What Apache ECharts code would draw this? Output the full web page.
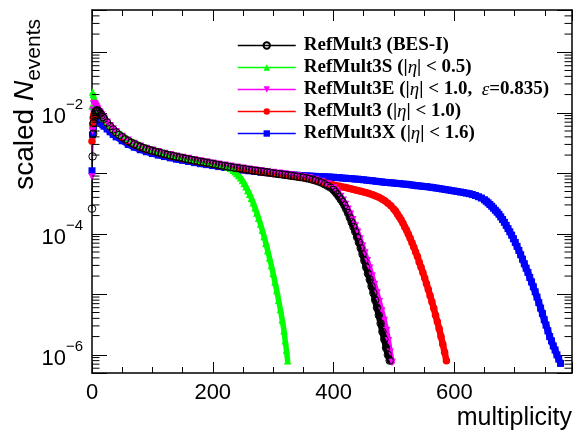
<!DOCTYPE html>
<html>
<head>
<meta charset="utf-8">
<script src="https://cdn.jsdelivr.net/npm/echarts@6/dist/echarts.min.js"></script>
<style>
html,body{margin:0;padding:0;background:#fff;}
#chart{width:578px;height:433px;}
</style>
</head>
<body>
<div id="chart"></div>
<script>
// ---------------- data (multiplicity, scaled N_events) ----------------
const seriesNames = [
  'RefMult3 (BES-I)',
  'RefMult3S (|η| < 0.5)',
  'RefMult3E (|η| < 1.0,  ε=0.835)',
  'RefMult3 (|η| < 1.0)',
  'RefMult3X (|η| < 1.6)'
];
const seriesColors = ['#000000', '#00ff00', '#ff00ff', '#ff0000', '#0000ff'];

const blackPts = [
 [0,2.6e-4],[1,1.9e-3],[2,4.5e-3],[3,6.8e-3],[4,8.5e-3],[5,9.6e-3],[6,1.04e-2],[7,1.08e-2],[8,1.1e-2],[9,1.1e-2],
 [10,1.08e-2],[12,1.03e-2],[14,9.7e-3],[16,9.1e-3],[18,8.5e-3],[20,8.0e-3],[25,6.9e-3],[30,6.0e-3],[35,5.3e-3],[40,4.75e-3],
 [45,4.3e-3],[50,3.95e-3],[55,3.65e-3],[60,3.4e-3],[65,3.2e-3],[70,3.02e-3],[75,2.87e-3],[80,2.74e-3],[85,2.62e-3],[90,2.52e-3],
 [95,2.43e-3],[100,2.35e-3],[105,2.28e-3],[110,2.21e-3],[115,2.14e-3],[120,2.08e-3],[125,2.02e-3],[130,1.97e-3],[135,1.92e-3],[140,1.87e-3],
 [145,1.83e-3],[150,1.78e-3],[155,1.74e-3],[160,1.70e-3],[165,1.66e-3],[170,1.62e-3],[175,1.58e-3],[180,1.55e-3],[185,1.52e-3],[190,1.49e-3],
 [195,1.46e-3],[200,1.43e-3],[205,1.40e-3],[210,1.37e-3],[215,1.34e-3],[220,1.32e-3],[225,1.29e-3],[230,1.27e-3],[235,1.24e-3],[240,1.22e-3],
 [245,1.20e-3],[250,1.18e-3],[255,1.16e-3],[260,1.14e-3],[265,1.12e-3],[270,1.10e-3],[275,1.085e-3],[280,1.07e-3],[285,1.055e-3],[290,1.04e-3],
 [295,1.02e-3],[300,1.0e-3],[305,9.85e-4],[310,9.7e-4],[315,9.55e-4],[320,9.4e-4],[325,9.25e-4],[330,9.1e-4],[335,8.95e-4],[340,8.8e-4],
 [345,8.65e-4],[350,8.5e-4],[355,8.3e-4],[360,8.1e-4],[365,7.85e-4],[370,7.6e-4],[375,7.3e-4],[380,7.0e-4],[385,6.6e-4],[390,6.2e-4],
 [395,5.8e-4],[400,5.3e-4],[403,4.9e-4],[406,4.5e-4],[409,4.1e-4],[412,3.7e-4],[415,3.35e-4],[418,2.95e-4],[421,2.55e-4],[424,2.2e-4],
 [427,1.85e-4],[430,1.55e-4],[433,1.3e-4],[436,1.08e-4],[439,8.8e-5],[442,7.2e-5],[445,5.8e-5],[448,4.6e-5],[451,3.6e-5],[454,2.8e-5],
 [457,2.2e-5],[460,1.75e-5],[463,1.35e-5],[466,1.05e-5],[469,8.0e-6],[472,6.0e-6],[475,4.5e-6],[478,3.3e-6],[481,2.4e-6],[484,1.8e-6],
 [487,1.3e-6],[490,1.0e-6],[493,8e-7]
];

const greenPts = [
 [0,1.3e-2],[1,2.2e-2],[2,2.0e-2],[3,1.75e-2],[4,1.6e-2],[5,1.48e-2],[6,1.38e-2],[7,1.3e-2],[8,1.23e-2],[9,1.17e-2],
 [10,1.12e-2],[12,1.04e-2],[14,9.7e-3],[16,9.1e-3],[18,8.6e-3],[20,8.1e-3],[25,7.1e-3],[30,6.3e-3],[35,5.6e-3],[40,5.05e-3],
 [45,4.6e-3],[50,4.25e-3],[60,3.65e-3],[70,3.22e-3],[80,2.9e-3],[90,2.66e-3],[100,2.48e-3],[110,2.32e-3],[120,2.18e-3],[130,2.06e-3],
 [140,1.95e-3],[150,1.86e-3],[160,1.77e-3],[170,1.69e-3],[180,1.61e-3],[190,1.54e-3],[200,1.47e-3],[210,1.4e-3],[220,1.32e-3],[225,1.27e-3],
 [230,1.2e-3],[234,1.12e-3],[237,1.06e-3],[240,9.9e-4],[243,9.2e-4],[246,8.4e-4],[249,7.6e-4],[252,6.8e-4],[255,6.0e-4],[258,5.2e-4],
 [261,4.5e-4],[264,3.85e-4],[267,3.25e-4],[270,2.7e-4],[273,2.2e-4],[276,1.8e-4],[279,1.45e-4],[282,1.15e-4],[285,9.0e-5],[288,7.0e-5],
 [291,5.3e-5],[294,4.0e-5],[297,3.0e-5],[300,2.2e-5],[303,1.6e-5],[306,1.15e-5],[309,8.0e-6],[312,5.6e-6],[315,3.8e-6],[318,2.5e-6],
 [320,1.7e-6],[322,1.2e-6],[324,8e-7]
];

const magentaPts = [
 [0,8.7e-4],[1,5.0e-3],[2,1.1e-2],[3,1.4e-2],[4,1.42e-2],[5,1.38e-2],[6,1.32e-2],[7,1.26e-2],[8,1.2e-2],[9,1.15e-2],
 [10,1.1e-2],[12,1.04e-2],[14,9.8e-3],[16,9.2e-3],[18,8.6e-3],[20,8.1e-3],[25,7.0e-3],[30,6.1e-3],[35,5.4e-3],[40,4.85e-3],
 [50,4.05e-3],[60,3.5e-3],[70,3.1e-3],[80,2.8e-3],[90,2.58e-3],[100,2.4e-3],[110,2.26e-3],[120,2.13e-3],[130,2.02e-3],[140,1.92e-3],
 [150,1.83e-3],[160,1.75e-3],[170,1.67e-3],[180,1.6e-3],[190,1.53e-3],[200,1.47e-3],[210,1.41e-3],[220,1.36e-3],[230,1.31e-3],[240,1.26e-3],
 [250,1.21e-3],[260,1.17e-3],[270,1.13e-3],[280,1.1e-3],[290,1.06e-3],[300,1.03e-3],[310,1.0e-3],[320,9.7e-4],[330,9.4e-4],[340,9.1e-4],
 [350,8.8e-4],[360,8.4e-4],[370,7.9e-4],[380,7.3e-4],[390,6.6e-4],[400,5.7e-4],[404,5.2e-4],[408,4.7e-4],[412,4.15e-4],[416,3.6e-4],
 [420,3.05e-4],[424,2.55e-4],[428,2.1e-4],[432,1.7e-4],[436,1.35e-4],[440,1.06e-4],[444,8.2e-5],[448,6.3e-5],[452,4.8e-5],[456,3.6e-5],
 [460,2.7e-5],[464,2.0e-5],[468,1.45e-5],[472,1.05e-5],[476,7.5e-6],[480,5.3e-6],[484,3.7e-6],[488,2.5e-6],[491,1.7e-6],[494,1.1e-6],
 [497,7.5e-7]
];

const redPts = [
 [0,3.4e-3],[1,6.5e-3],[2,8.2e-3],[3,9.2e-3],[4,9.8e-3],[5,1.02e-2],[6,1.04e-2],[7,1.05e-2],[8,1.05e-2],[9,1.04e-2],
 [10,1.02e-2],[12,9.8e-3],[14,9.3e-3],[16,8.8e-3],[18,8.3e-3],[20,7.8e-3],[25,6.8e-3],[30,5.9e-3],[35,5.2e-3],[40,4.7e-3],
 [50,3.9e-3],[60,3.35e-3],[70,2.97e-3],[80,2.7e-3],[90,2.48e-3],[100,2.32e-3],[110,2.18e-3],[120,2.05e-3],[130,1.94e-3],[140,1.85e-3],
 [150,1.76e-3],[160,1.68e-3],[170,1.6e-3],[180,1.53e-3],[190,1.47e-3],[200,1.41e-3],[210,1.35e-3],[220,1.3e-3],[230,1.25e-3],[240,1.2e-3],
 [250,1.16e-3],[260,1.12e-3],[270,1.08e-3],[280,1.05e-3],[290,1.02e-3],[300,9.9e-4],[310,9.6e-4],[320,9.3e-4],[330,9.0e-4],[340,8.75e-4],
 [350,8.5e-4],[355,8.35e-4],[360,8.2e-4],[365,7.95e-4],[370,7.7e-4],[375,7.45e-4],[380,7.2e-4],[385,7.0e-4],[390,6.8e-4],[395,6.6e-4],
 [400,6.4e-4],[405,6.25e-4],[410,6.1e-4],[415,5.95e-4],[420,5.8e-4],[425,5.65e-4],[430,5.5e-4],[435,5.35e-4],[440,5.2e-4],[445,5.05e-4],
 [450,4.9e-4],[455,4.75e-4],[460,4.6e-4],[465,4.4e-4],[470,4.2e-4],[475,4.0e-4],[480,3.75e-4],[485,3.5e-4],[490,3.2e-4],[495,2.9e-4],
 [500,2.55e-4],[503,2.35e-4],[506,2.1e-4],[509,1.9e-4],[512,1.7e-4],[515,1.5e-4],[518,1.3e-4],[521,1.14e-4],[524,9.8e-5],[527,8.4e-5],
 [530,7.1e-5],[533,6.0e-5],[536,5.0e-5],[539,4.2e-5],[542,3.4e-5],[545,2.8e-5],[548,2.3e-5],[551,1.85e-5],[554,1.5e-5],[557,1.2e-5],
 [560,9.5e-6],[563,7.5e-6],[566,5.9e-6],[569,4.5e-6],[572,3.5e-6],[575,2.7e-6],[578,2.0e-6],[581,1.5e-6],[584,1.1e-6],[587,8e-7]
];

const bluePts = [
 [0,1.1e-3],[1,4.3e-3],[2,5.9e-3],[3,6.8e-3],[4,7.4e-3],[5,7.8e-3],[6,8.0e-3],[7,8.1e-3],[8,8.1e-3],[9,8.0e-3],
 [10,7.85e-3],[12,7.5e-3],[14,7.1e-3],[16,6.7e-3],[18,6.35e-3],[20,6.0e-3],[25,5.4e-3],[30,4.85e-3],[35,4.4e-3],[40,4.0e-3],
 [50,3.45e-3],[60,3.0e-3],[70,2.7e-3],[80,2.45e-3],[90,2.27e-3],[100,2.12e-3],[110,2.0e-3],[120,1.89e-3],[130,1.8e-3],[140,1.71e-3],
 [150,1.64e-3],[160,1.57e-3],[170,1.5e-3],[180,1.44e-3],[190,1.39e-3],[200,1.34e-3],[210,1.29e-3],[220,1.25e-3],[230,1.21e-3],[240,1.17e-3],
 [250,1.13e-3],[260,1.1e-3],[270,1.07e-3],[280,1.04e-3],[290,1.02e-3],[300,1.0e-3],[305,9.9e-4],[310,9.8e-4],[315,9.7e-4],[320,9.6e-4],
 [325,9.5e-4],[330,9.45e-4],[335,9.35e-4],[340,9.3e-4],[345,9.2e-4],[350,9.15e-4],[355,9.05e-4],[360,9.0e-4],[365,8.95e-4],[370,8.9e-4],
 [375,8.85e-4],[380,8.8e-4],[385,8.75e-4],[390,8.7e-4],[395,8.65e-4],[400,8.6e-4],[405,8.5e-4],[410,8.45e-4],[415,8.35e-4],[420,8.3e-4],
 [425,8.2e-4],[430,8.15e-4],[435,8.05e-4],[440,8.0e-4],[445,7.9e-4],[450,7.8e-4],[455,7.7e-4],[460,7.6e-4],[465,7.5e-4],[470,7.4e-4],
 [475,7.3e-4],[480,7.2e-4],[485,7.1e-4],[490,7.05e-4],[495,6.95e-4],[500,6.9e-4],[505,6.8e-4],[510,6.75e-4],[515,6.65e-4],[520,6.6e-4],
 [525,6.5e-4],[530,6.4e-4],[535,6.3e-4],[540,6.2e-4],[545,6.15e-4],[550,6.05e-4],[555,6.0e-4],[560,5.9e-4],[565,5.8e-4],[570,5.7e-4],
 [575,5.6e-4],[580,5.5e-4],[585,5.4e-4],[590,5.3e-4],[595,5.2e-4],[600,5.1e-4],[605,5.0e-4],[610,4.9e-4],[615,4.8e-4],[620,4.7e-4],
 [625,4.6e-4],[630,4.45e-4],[635,4.3e-4],[640,4.1e-4],[645,3.9e-4],[650,3.65e-4],[653,3.45e-4],[656,3.25e-4],[659,3.05e-4],[662,2.85e-4],
 [665,2.65e-4],[668,2.45e-4],[671,2.28e-4],[674,2.1e-4],[677,1.9e-4],[680,1.72e-4],[683,1.55e-4],[686,1.38e-4],[689,1.22e-4],[692,1.08e-4],
 [695,9.5e-5],[698,8.3e-5],[701,7.2e-5],[704,6.2e-5],[707,5.3e-5],[710,4.5e-5],[713,3.8e-5],[716,3.2e-5],[719,2.7e-5],[722,2.3e-5],
 [725,1.9e-5],[728,1.6e-5],[731,1.33e-5],[734,1.1e-5],[737,9.0e-6],[740,7.3e-6],[743,5.9e-6],[746,4.8e-6],[749,3.8e-6],[752,3.1e-6],
 [755,2.5e-6],[758,2.0e-6],[761,1.7e-6],[764,1.4e-6],[767,1.2e-6],[770,1.0e-6],[773,8.5e-7],[776,7.2e-7]
];

// axis ranges and labelled ticks
const X_MIN = 0, X_MAX = 795;
const Y_MIN = 5e-7, Y_MAX = 0.5;
const xTickLabels = [0, 200, 400, 600];
const yTickLabelExps = [-2, -4, -6];

// ---------------- chart ----------------
const chart = echarts.init(document.getElementById('chart'), null, {renderer: 'canvas'});

const yMinorTicks = [];
for (let e = -7; e <= -1; e++) {
  for (let k = 2; k <= 9; k++) {
    const v = k * Math.pow(10, e);
    if (v > Y_MIN * 1.0001 && v < Y_MAX * 0.9999) yMinorTicks.push([X_MIN, v]);
  }
}

const SANS = 'Liberation Sans, Arial, Helvetica, sans-serif';
const SERIF = 'Liberation Serif, Times New Roman, serif';

function yLabel(v) {
  const l = Math.log10(v);
  const e = Math.round(l);
  if (Math.abs(l - e) > 1e-6) return '';
  if (yTickLabelExps.indexOf(e) < 0) return '';
  return '{b|10}{s|−' + (-e) + '}';
}

const axisLineStyle = {color: '#000', width: 1.5};
const tickStyle = {color: '#000', width: 1};

// marker series (shown in legend); the thin connecting line lies under the band
function mk(name, pts, color, symbol, size, extra) {
  return Object.assign({
    name: name,
    type: 'line',
    data: pts,
    xAxisIndex: 0,
    yAxisIndex: 0,
    symbol: symbol,
    symbolSize: size,
    showSymbol: true,
    showAllSymbol: true,
    lineStyle: {color: color, width: 1, opacity: 1},
    itemStyle: {color: color},
    emphasis: {disabled: true},
    clip: true
  }, extra || {});
}
// dense band under the markers (the many overlapping bins of the histogram)
function band(pts, color, width) {
  return {
    name: 'band',
    type: 'line',
    data: pts.filter(p => p[0] >= 2),
    xAxisIndex: 0,
    yAxisIndex: 0,
    showSymbol: false,
    symbol: 'none',
    lineStyle: {color: color, width: width, cap: 'round', join: 'round'},
    emphasis: {disabled: true},
    silent: true,
    clip: true
  };
}

const option = {
  animation: false,
  backgroundColor: '#fff',
  grid: {left: 92, right: 6, top: 10, bottom: 60, show: false},
  xAxis: [
    {
      type: 'value', position: 'bottom', min: X_MIN, max: X_MAX, interval: 200,
      axisLine: {show: true, onZero: false, lineStyle: axisLineStyle},
      axisTick: {show: true, inside: true, length: 11, lineStyle: tickStyle},
      minorTick: {show: true, splitNumber: 4, length: 6, lineStyle: tickStyle},
      splitLine: {show: false},
      axisLabel: {
        color: '#000', fontFamily: SANS, fontSize: 22, margin: 9,
        showMaxLabel: false,
        formatter: v => (xTickLabels.indexOf(v) >= 0 ? String(v) : '')
      },
      name: 'multiplicity', nameLocation: 'end', nameGap: 0,
      nameTextStyle: {color: '#000', fontFamily: SANS, fontSize: 25, align: 'right', verticalAlign: 'top', padding: [33, 0, 0, 0]}
    },
    {
      type: 'value', position: 'top', min: X_MIN, max: X_MAX, interval: 200,
      axisLine: {show: true, onZero: false, lineStyle: axisLineStyle},
      axisTick: {show: true, inside: true, length: 11, lineStyle: tickStyle},
      minorTick: {show: true, splitNumber: 4, length: 6, lineStyle: tickStyle},
      splitLine: {show: false},
      axisLabel: {show: false}
    }
  ],
  yAxis: [
    {
      type: 'log', logBase: 10, position: 'left', min: Y_MIN, max: Y_MAX,
      axisLine: {show: true, onZero: false, lineStyle: axisLineStyle},
      axisTick: {show: true, inside: true, length: 15, lineStyle: tickStyle},
      splitLine: {show: false},
      axisLabel: {
        color: '#000', margin: 9, formatter: yLabel,
        rich: {
          b: {fontFamily: SANS, fontSize: 22, color: '#000', lineHeight: 30, verticalAlign: 'bottom'},
          s: {fontFamily: SANS, fontSize: 15, color: '#000', lineHeight: 30, verticalAlign: 'top'}
        }
      }
    },
    {
      type: 'log', logBase: 10, position: 'right', min: Y_MIN, max: Y_MAX,
      axisLine: {show: true, onZero: false, lineStyle: axisLineStyle},
      axisTick: {show: true, inside: true, length: 15, lineStyle: tickStyle},
      splitLine: {show: false},
      axisLabel: {show: false}
    }
  ],
  legend: {
    orient: 'vertical', left: 232, top: 31,
    itemWidth: 58, itemHeight: 8, itemGap: 3,
    data: seriesNames,
    selectedMode: false,
    lineStyle: {width: 1.5},
    textStyle: {
      color: '#000', fontFamily: SERIF, fontWeight: 'bold', fontSize: 19, lineHeight: 17,
      rich: {
        g: {width: 3},
        i: {fontFamily: SERIF, fontStyle: 'italic', fontWeight: 'normal', fontSize: 19, lineHeight: 17, color: '#000'}
      }
    },
    formatter: name => '{g|}' + name.replace('η', '{i|η}').replace('ε', '{i|ε}')
  },
  graphic: [
    {
      type: 'text', x: 45, y: 19, rotation: Math.PI / 2,
      style: {
        text: '{a|scaled }{n|N}{s|events}',
        align: 'right', verticalAlign: 'bottom',
        rich: {
          a: {fontFamily: SANS, fontSize: 28, fill: '#000', color: '#000', lineHeight: 34, verticalAlign: 'top'},
          n: {fontFamily: SANS, fontSize: 28, fontStyle: 'italic', fill: '#000', color: '#000', lineHeight: 34, verticalAlign: 'top'},
          s: {fontFamily: SANS, fontSize: 21, fill: '#000', color: '#000', lineHeight: 34, verticalAlign: 'bottom'}
        }
      }
    }
  ],
  series: [
    band(bluePts, '#0000ff', 6.5),
    mk(seriesNames[4], bluePts, '#0000ff', 'rect', 7),
    band(redPts, '#ff0000', 6.5),
    mk(seriesNames[3], redPts, '#ff0000', 'circle', 7.5),
    band(greenPts, '#00ff00', 5.5),
    mk(seriesNames[1], greenPts, '#00ff00', 'triangle', 7.5),
    band(magentaPts, '#ff00ff', 5.5),
    mk(seriesNames[2], magentaPts, '#ff00ff', 'triangle', 7.5, {symbolRotate: 180}),
    band(blackPts, '#000000', 6.5),
    mk(seriesNames[0], blackPts, '#000000', 'circle', 7.5, {
      itemStyle: {color: 'rgba(0,0,0,0)', borderColor: '#000', borderWidth: 1}
    }),
    {
      type: 'custom',
      name: 'yMinorTicks',
      xAxisIndex: 0, yAxisIndex: 0,
      data: yMinorTicks,
      silent: true,
      clip: false,
      z: 10,
      renderItem: function (params, api) {
        const v = api.value(1);
        const l = api.coord([X_MIN, v]);
        const r = api.coord([X_MAX, v]);
        return {
          type: 'group',
          children: [
            {type: 'line', shape: {x1: l[0], y1: l[1], x2: l[0] + 7.5, y2: l[1]}, style: {stroke: '#000', lineWidth: 1}},
            {type: 'line', shape: {x1: r[0], y1: r[1], x2: r[0] - 7.5, y2: r[1]}, style: {stroke: '#000', lineWidth: 1}}
          ]
        };
      }
    }
  ]
};

chart.setOption(option);
</script>
</body>
</html>
